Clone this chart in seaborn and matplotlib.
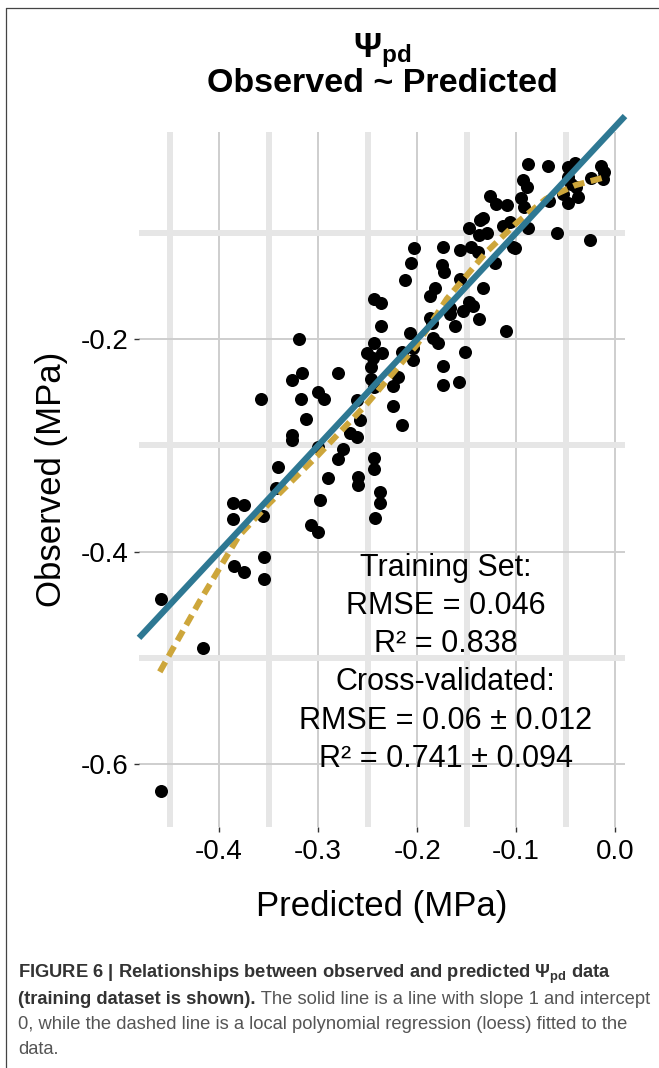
import numpy as np
import pandas as pd
import seaborn as sns
import matplotlib.pyplot as plt
from matplotlib.lines import Line2D

# predicted vs observed leaf water potential (MPa), training set
predicted = [-0.459, -0.416, -0.459, -0.386, -0.375, -0.386, -0.356, -0.355, -0.385, -0.375,
             -0.355, -0.343, -0.341, -0.358,
             -0.319, -0.326, -0.316, -0.317, -0.312, -0.326, -0.326, -0.300, -0.294, -0.280,
             -0.300, -0.275, -0.280, -0.290, -0.298, -0.307, -0.300,
             -0.260, -0.260, -0.244, -0.244, -0.238, -0.238, -0.243, -0.261, -0.258, -0.261,
             -0.268, -0.247, -0.244, -0.237, -0.244, -0.237, -0.235, -0.245, -0.251, -0.247,
             -0.244,
             -0.224, -0.215, -0.219, -0.224, -0.207, -0.204, -0.215, -0.206, -0.212, -0.203,
             -0.187, -0.185, -0.184, -0.179, -0.182, -0.187, -0.175, -0.173, -0.204,
             -0.174, -0.157, -0.146, -0.139, -0.148, -0.136, -0.129, -0.138, -0.157, -0.133,
             -0.144, -0.148, -0.167, -0.167, -0.154, -0.162, -0.152, -0.174, -0.174, -0.158,
             -0.137, -0.133,
             -0.121, -0.113, -0.106, -0.103, -0.110, -0.126, -0.120, -0.109, -0.095, -0.092,
             -0.093, -0.089, -0.088, -0.088, -0.101,
             -0.068, -0.048, -0.041, -0.014, -0.011, -0.012, -0.024, -0.048, -0.045, -0.067,
             -0.048, -0.037, -0.040, -0.053, -0.059, -0.025]
observed = [-0.444, -0.491, -0.625, -0.354, -0.356, -0.369, -0.366, -0.405, -0.413, -0.419,
            -0.426, -0.340, -0.320, -0.256,
            -0.200, -0.238, -0.232, -0.256, -0.275, -0.290, -0.295, -0.250, -0.256, -0.232,
            -0.301, -0.303, -0.313, -0.331, -0.351, -0.375, -0.381,
            -0.330, -0.337, -0.312, -0.322, -0.344, -0.354, -0.368, -0.257, -0.276, -0.292,
            -0.288, -0.226, -0.204, -0.188, -0.162, -0.166, -0.213, -0.218, -0.213, -0.237,
            -0.245,
            -0.263, -0.281, -0.236, -0.244, -0.194, -0.220, -0.212, -0.128, -0.144, -0.114,
            -0.180, -0.185, -0.199, -0.204, -0.152, -0.159, -0.130, -0.137, -0.208,
            -0.113, -0.116, -0.113, -0.118, -0.095, -0.088, -0.100, -0.102, -0.143, -0.152,
            -0.169, -0.165, -0.171, -0.176, -0.173, -0.188, -0.212, -0.225, -0.243, -0.240,
            -0.181, -0.086,
            -0.128, -0.093, -0.090, -0.113, -0.192, -0.065, -0.073, -0.074, -0.067, -0.076,
            -0.050, -0.057, -0.035, -0.095, -0.114,
            -0.037, -0.038, -0.034, -0.037, -0.043, -0.049, -0.048, -0.047, -0.054, -0.070,
            -0.072, -0.066, -0.057, -0.063, -0.100, -0.107]

# loess fit
loess_x = [-0.460, -0.440, -0.420, -0.400, -0.380, -0.350, -0.300, -0.250, -0.200,
           -0.170, -0.130, -0.100, -0.070, -0.040, -0.012]
loess_y = [-0.513, -0.480, -0.447, -0.416, -0.385, -0.355, -0.309, -0.260, -0.205,
           -0.162, -0.118, -0.091, -0.068, -0.055, -0.048]

x_ticks = [-0.4, -0.3, -0.2, -0.1, 0.0]
x_minor = [-0.45, -0.35, -0.25, -0.15, -0.05]
y_ticks = [-0.6, -0.4, -0.2]
y_minor = [-0.5, -0.3, -0.1]
x_lim = [-0.481, 0.010]
y_lim = [-0.659, -0.005]

stats_text = ("Training Set:\nRMSE = 0.046\nR\u00b2 = 0.838\nCross-validated:\n"
              "RMSE = 0.06 \u00b1 0.012\nR\u00b2 = 0.741 \u00b1 0.094")

sns.set_theme(style="white")
plt.rcParams['font.family'] = ['Liberation Sans', 'DejaVu Sans']
plt.rcParams['text.color'] = 'black'
plt.rcParams['mathtext.fontset'] = 'custom'
plt.rcParams['mathtext.rm'] = 'Liberation Sans'
plt.rcParams['mathtext.bf'] = 'Liberation Sans:bold'
plt.rcParams['mathtext.it'] = 'Liberation Sans:italic'

W, H = 659, 1068
fig = plt.figure(figsize=(W / 100, H / 100), dpi=100)
ax = fig.add_axes([139 / W, 1 - 827 / H, 486 / W, 695 / H])

df = pd.DataFrame({"Predicted": predicted, "Observed": observed})
sns.scatterplot(data=df, x="Predicted", y="Observed", color="black", s=88,
                linewidth=0, ax=ax, zorder=3)
ax.plot(loess_x, loess_y, color="#CDA63B", lw=4.3, linestyle=(0, (1.9, 1.1)),
        dash_capstyle="butt", zorder=4)
ax.plot(x_lim, x_lim, color="#2E7893", lw=4.5, solid_capstyle="butt",
        clip_on=False, zorder=5)

ax.set_xlim(x_lim)
ax.set_ylim(y_lim)
ax.set_xticks(x_ticks)
ax.set_xticks(x_minor, minor=True)
ax.set_yticks(y_ticks)
ax.set_yticks(y_minor, minor=True)
ax.set_xticklabels(["-0.4", "-0.3", "-0.2", "-0.1", "0.0"])
ax.set_yticklabels(["-0.6", "-0.4", "-0.2"])
ax.set_axisbelow(True)
ax.grid(which="minor", color="#e6e6e6", lw=4.3)
ax.grid(which="major", color="#cecece", lw=1.4)
for s in ax.spines.values():
    s.set_visible(False)
ax.tick_params(which="major", length=3.6, width=1, color="#333333",
               labelsize=20, labelcolor="black", pad=5)
ax.tick_params(which="minor", length=0)
ax.tick_params(axis="x", bottom=True)
ax.tick_params(axis="y", left=True, pad=3.8)
ax.set_xlabel("Predicted (MPa)", fontsize=25, labelpad=18, color="black")
ax.set_ylabel("Observed (MPa)", fontsize=25, labelpad=9, color="black")

ax.text(-0.171, -0.505, stats_text, ha="center", va="center", fontsize=22,
        linespacing=1.36, color="black", zorder=6)

# title
fig.text(382 / W, 1 - 57 / H, r"$\mathbf{\Psi_{pd}}$", ha="center", va="baseline",
         fontsize=25)
fig.text(382 / W, 1 - 92 / H, "Observed ~ Predicted", ha="center", va="baseline",
         fontsize=24.5, weight="bold")

# frame around the figure panel
fig.add_artist(Line2D([6 / W, 1], [1 - 8 / H, 1 - 8 / H], color="#444444", lw=0.9))
fig.add_artist(Line2D([6 / W, 6 / W], [0, 1 - 8 / H], color="#444444", lw=0.9))

# caption
cap_x = 18 / W
cap_size = 13.2
fig.text(cap_x, 1 - 978 / H,
         r"FIGURE 6 | Relationships between observed and predicted $\mathbf{\Psi_{pd}}$ data",
         fontsize=cap_size, weight="bold", color="#333333", va="baseline")
t_bold = fig.text(cap_x, 1 - 1003.5 / H, "(training dataset is shown).", fontsize=cap_size,
                  weight="bold", color="#333333", va="baseline")
fig.canvas.draw()
bb = t_bold.get_window_extent()
x_next = fig.transFigure.inverted().transform((bb.x1, 0))[0]
fig.text(x_next, 1 - 1003.5 / H, " The solid line is a line with slope 1 and intercept",
         fontsize=cap_size, color="#555555", va="baseline")
fig.text(cap_x, 1 - 1029 / H,
         "0, while the dashed line is a local polynomial regression (loess) fitted to the",
         fontsize=cap_size, color="#555555", va="baseline")
fig.text(cap_x, 1 - 1054.5 / H, "data.", fontsize=cap_size, color="#555555", va="baseline")

fig.savefig("out.png", dpi=100)
